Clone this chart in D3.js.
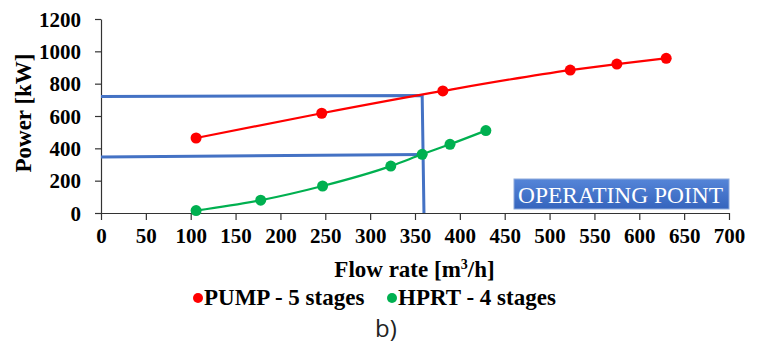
<!DOCTYPE html>
<html>
<head>
<meta charset="utf-8">
<script src="https://cdn.jsdelivr.net/npm/d3@7"></script>
<style>
  body { margin: 0; background: #fff; }
</style>
</head>
<body>
<svg id="chart" width="763" height="345"></svg>
<script>
// data
const xTicks = [0, 50, 100, 150, 200, 250, 300, 350, 400, 450, 500, 550, 600, 650, 700];
const yTicks = [0, 200, 400, 600, 800, 1000, 1200];

const pumpFlow = [106, 246, 381, 523, 575, 630];
const pumpPower = [464, 617, 755, 884, 921, 957];

const hprtFlow = [106, 178, 247, 323, 358, 389, 429];
const hprtPower = [15, 79, 167, 290, 363, 425, 510];

// operating point guide lines (flow, power)
const opUpper = [[0, 721], [358, 727], [360, 0]];
const opLower = [[0, 347], [358, 362]];

const seriesNames = ["PUMP - 5 stages", "HPRT - 4 stages"];
const seriesColors = ["#ff0000", "#00b050"];

const serif = "Liberation Serif, Times New Roman, serif";

const svg = d3.select("#chart");
const plotLeft = 101, plotRight = 729, plotTop = 19, plotBottom = 213;

const x = d3.scaleLinear().domain([0, 700]).range([plotLeft, plotRight]);
const y = d3.scaleLinear().domain([0, 1200]).range([plotBottom, plotTop]);

// axes
const xAxis = svg.append("g")
    .attr("transform", "translate(0," + plotBottom + ")")
    .call(d3.axisBottom(x).tickValues(xTicks).tickFormat(d3.format("d"))
        .tickSize(7).tickSizeOuter(0).tickPadding(8));
const yAxis = svg.append("g")
    .attr("transform", "translate(" + plotLeft + ",0)")
    .call(d3.axisLeft(y).tickValues(yTicks).tickFormat(d3.format("d"))
        .tickSize(6).tickSizeOuter(0).tickPadding(14));

[xAxis, yAxis].forEach(a => {
    a.attr("font-family", serif).attr("font-size", 21).attr("font-weight", "bold");
    a.select(".domain").attr("stroke", "#333").attr("stroke-width", 1.2);
    a.selectAll(".tick line").attr("stroke", "#333").attr("stroke-width", 1.2);
    a.selectAll("text").attr("fill", "#000");
});
yAxis.selectAll("text").attr("dy", "0.34em");

// axis titles
const xt = svg.append("text")
    .attr("x", (333 + 496) / 2)
    .attr("y", 277)
    .attr("text-anchor", "middle")
    .attr("font-family", serif)
    .attr("font-weight", "bold")
    .attr("font-size", 23);
xt.append("tspan").text("Flow rate [m");
xt.append("tspan").text("3").attr("font-size", 14).attr("dy", -8);
xt.append("tspan").text("/h]").attr("dy", 8);

svg.append("text")
    .attr("transform", "translate(31,113) rotate(-90)")
    .attr("text-anchor", "middle")
    .attr("font-family", serif)
    .attr("font-weight", "bold")
    .attr("font-size", 23)
    .text("Power [kW]");

// operating point lines
const guide = d3.line().x(d => x(d[0])).y(d => y(d[1]));
[opUpper, opLower].forEach(pts => {
    svg.append("path")
        .attr("d", guide(pts))
        .attr("fill", "none")
        .attr("stroke", "#4472c4")
        .attr("stroke-width", 3);
});

// series
const series = [
    { flow: pumpFlow, power: pumpPower },
    { flow: hprtFlow, power: hprtPower }
];
const line = d3.line().x(d => x(d[0])).y(d => y(d[1])).curve(d3.curveMonotoneX);

series.forEach((s, i) => {
    const pts = s.flow.map((f, j) => [f, s.power[j]]);
    svg.append("path")
        .attr("d", line(pts))
        .attr("fill", "none")
        .attr("stroke", seriesColors[i])
        .attr("stroke-width", 2.2);
    svg.selectAll(".dot" + i)
        .data(pts)
        .enter()
        .append("circle")
        .attr("cx", d => x(d[0]))
        .attr("cy", d => y(d[1]))
        .attr("r", 5.5)
        .attr("fill", seriesColors[i]);
});

// operating point label box
const defs = svg.append("defs");
const grad = defs.append("linearGradient").attr("id", "opgrad")
    .attr("x1", 0).attr("y1", 0).attr("x2", 0).attr("y2", 1);
grad.append("stop").attr("offset", "0%").attr("stop-color", "#5585d8");
grad.append("stop").attr("offset", "100%").attr("stop-color", "#3564bd");

svg.append("rect")
    .attr("x", 514).attr("y", 179)
    .attr("width", 215).attr("height", 30)
    .attr("fill", "url(#opgrad)")
    .attr("stroke", "#8eaadb")
    .attr("stroke-width", 1);
svg.append("text")
    .attr("x", 518).attr("y", 203)
    .attr("fill", "#fff")
    .attr("font-family", serif)
    .attr("font-size", 23)
    .attr("textLength", 205)
    .attr("lengthAdjust", "spacingAndGlyphs")
    .text("OPERATING POINT");

// legend
const legendX = [198, 392];
seriesNames.forEach((name, i) => {
    svg.append("circle")
        .attr("cx", legendX[i]).attr("cy", 298)
        .attr("r", 5)
        .attr("fill", seriesColors[i]);
    svg.append("text")
        .attr("x", legendX[i] + 6).attr("y", 305)
        .attr("font-family", serif)
        .attr("font-weight", "bold")
        .attr("font-size", 23)
        .text(name);
});

svg.append("text")
    .attr("x", 386).attr("y", 337)
    .attr("text-anchor", "middle")
    .attr("fill", "#222")
    .attr("font-family", "Open Sans, sans-serif")
    .attr("font-size", 24)
    .text("b)");
</script>
</body>
</html>
